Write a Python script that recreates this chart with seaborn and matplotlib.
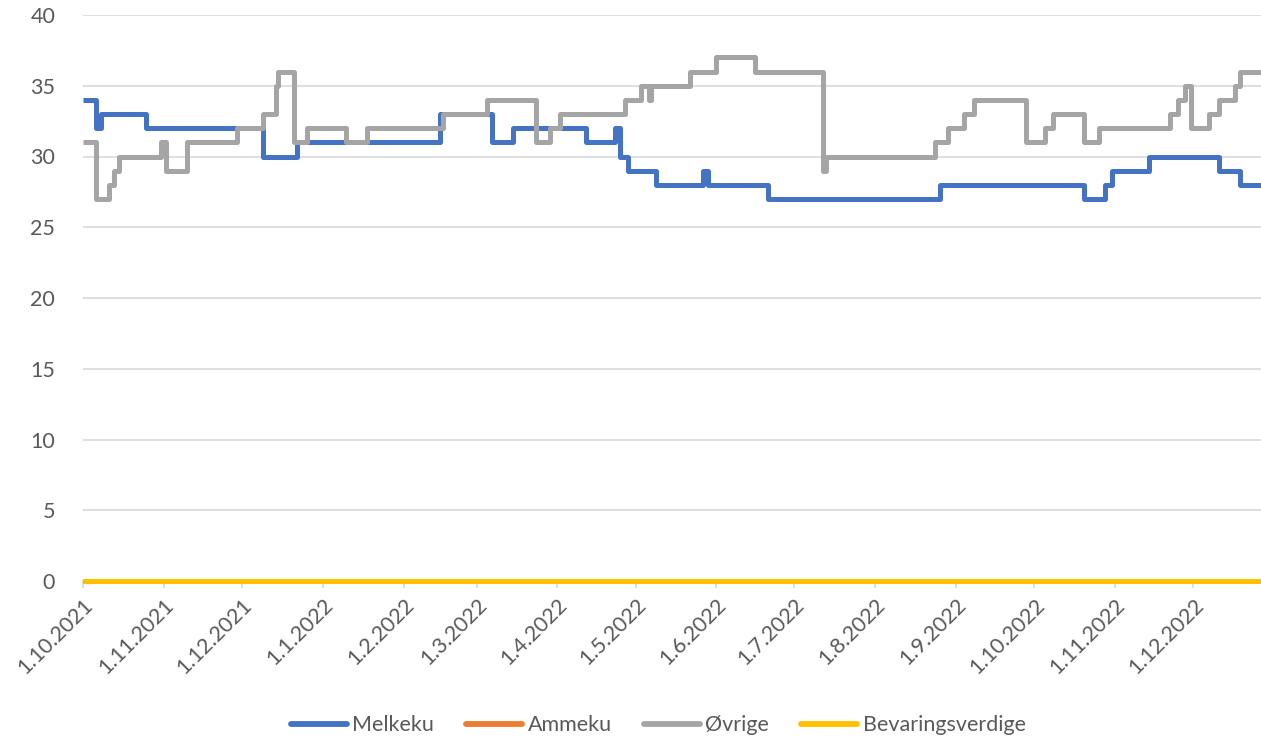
import matplotlib
matplotlib.use("Agg")
import matplotlib.pyplot as plt
import pandas as pd
import seaborn as sns

# Step change points (date where new value starts, value)
melkeku_dates = [
    "2021-10-01", "2021-10-06", "2021-10-08", "2021-10-25", "2021-12-09",
    "2021-12-22", "2022-02-15", "2022-03-07", "2022-03-15", "2022-04-12",
    "2022-04-23", "2022-04-25", "2022-04-28", "2022-05-09", "2022-05-27",
    "2022-05-29", "2022-06-21", "2022-08-26", "2022-10-20", "2022-10-28",
    "2022-10-31", "2022-11-14", "2022-12-11", "2022-12-19", "2022-12-27",
]
melkeku_values = [
    34, 32, 33, 32, 30,
    31, 33, 31, 32, 31,
    32, 30, 29, 28, 29,
    28, 27, 28, 27, 28,
    29, 30, 29, 28, 28,
]

ovrige_dates = [
    "2021-10-01", "2021-10-06", "2021-10-11", "2021-10-13", "2021-10-15",
    "2021-10-31", "2021-11-02", "2021-11-10", "2021-11-29", "2021-12-09",
    "2021-12-14", "2021-12-15", "2021-12-21", "2021-12-26", "2022-01-10",
    "2022-01-18", "2022-02-16", "2022-03-05", "2022-03-24", "2022-03-29",
    "2022-04-02", "2022-04-27", "2022-05-03", "2022-05-06", "2022-05-07",
    "2022-05-22", "2022-06-01", "2022-06-16", "2022-07-12", "2022-07-13",
    "2022-08-24", "2022-08-29", "2022-09-04", "2022-09-08", "2022-09-28",
    "2022-10-05", "2022-10-08", "2022-10-20", "2022-10-26", "2022-11-22",
    "2022-11-25", "2022-11-28", "2022-11-30", "2022-12-07", "2022-12-11",
    "2022-12-17", "2022-12-19", "2022-12-27",
]
ovrige_values = [
    31, 27, 28, 29, 30,
    31, 29, 31, 32, 33,
    35, 36, 31, 32, 31,
    32, 33, 34, 31, 32,
    33, 34, 35, 34, 35,
    36, 37, 36, 29, 30,
    31, 32, 33, 34, 31,
    32, 33, 31, 32, 33,
    34, 35, 32, 33, 34,
    35, 36, 36,
]

ammeku_dates = ["2021-10-01", "2022-12-27"]
ammeku_values = [0, 0]
bevaring_dates = ["2021-10-01", "2022-12-27"]
bevaring_values = [0, 0]

series_names = ["Melkeku", "Ammeku", "Øvrige", "Bevaringsverdige"]
colors = ["#4472C4", "#ED7D31", "#A5A5A5", "#FFC000"]

frames = []
for name, d, v in [
    ("Melkeku", melkeku_dates, melkeku_values),
    ("Ammeku", ammeku_dates, ammeku_values),
    ("Øvrige", ovrige_dates, ovrige_values),
    ("Bevaringsverdige", bevaring_dates, bevaring_values),
]:
    frames.append(pd.DataFrame({"Dato": pd.to_datetime(d), "Antall": v, "Serie": name}))
df = pd.concat(frames, ignore_index=True)

sns.set_theme(style="white")
plt.rcParams["font.family"] = ["Lato", "DejaVu Sans"]

fig = plt.figure(figsize=(12.61, 7.40), dpi=100)
ax = fig.add_axes([83 / 1261, 1 - 581 / 740, 1 - 83 / 1261, (581 - 15) / 740])

ax = sns.lineplot(
    data=df, x="Dato", y="Antall", hue="Serie", hue_order=series_names,
    palette=colors, drawstyle="steps-post", linewidth=3.6, ax=ax,
    estimator=None, legend=True, solid_joinstyle="round",
    solid_capstyle="butt",
)
for line in ax.get_lines():
    line.set_clip_on(False)
    line.set_zorder(3)

ax.set_ylim(0, 40)
ax.set_yticks(range(0, 41, 5))
ax.set_xlim(pd.Timestamp("2021-10-01"), pd.Timestamp("2022-12-27"))

tick_dates = pd.date_range("2021-10-01", "2022-12-01", freq="MS")
ax.set_xticks(tick_dates)
ax.set_xticklabels([f"{d.day}.{d.month}.{d.year}" for d in tick_dates],
                   rotation=45, ha="right", rotation_mode="anchor")

ax.grid(axis="y", color="#D9D9D9", linewidth=1.2)
ax.set_axisbelow(True)
for s in ["top", "right", "left"]:
    ax.spines[s].set_visible(False)
ax.spines["bottom"].set_color("#D9D9D9")
ax.spines["bottom"].set_zorder(1)
ax.tick_params(axis="x", length=5, color="#D9D9D9", colors="#595959",
               labelsize=15.5, pad=5, bottom=True)
ax.tick_params(axis="y", length=0, colors="#595959", labelsize=15.5, pad=20)
ax.set_xlabel("")
ax.set_ylabel("")

handles, labels = ax.get_legend_handles_labels()
ax.get_legend().remove()
for h in handles:
    h.set_linewidth(4.2)
    h.set_solid_capstyle("round")
fig.legend(handles, labels, loc="center", bbox_to_anchor=(0.522, 0.02),
           ncol=4, frameon=False, fontsize=15.5, handlelength=2.6,
           handletextpad=0.25, columnspacing=1.5, labelcolor="#595959")

plt.savefig("out.png", dpi=100)
